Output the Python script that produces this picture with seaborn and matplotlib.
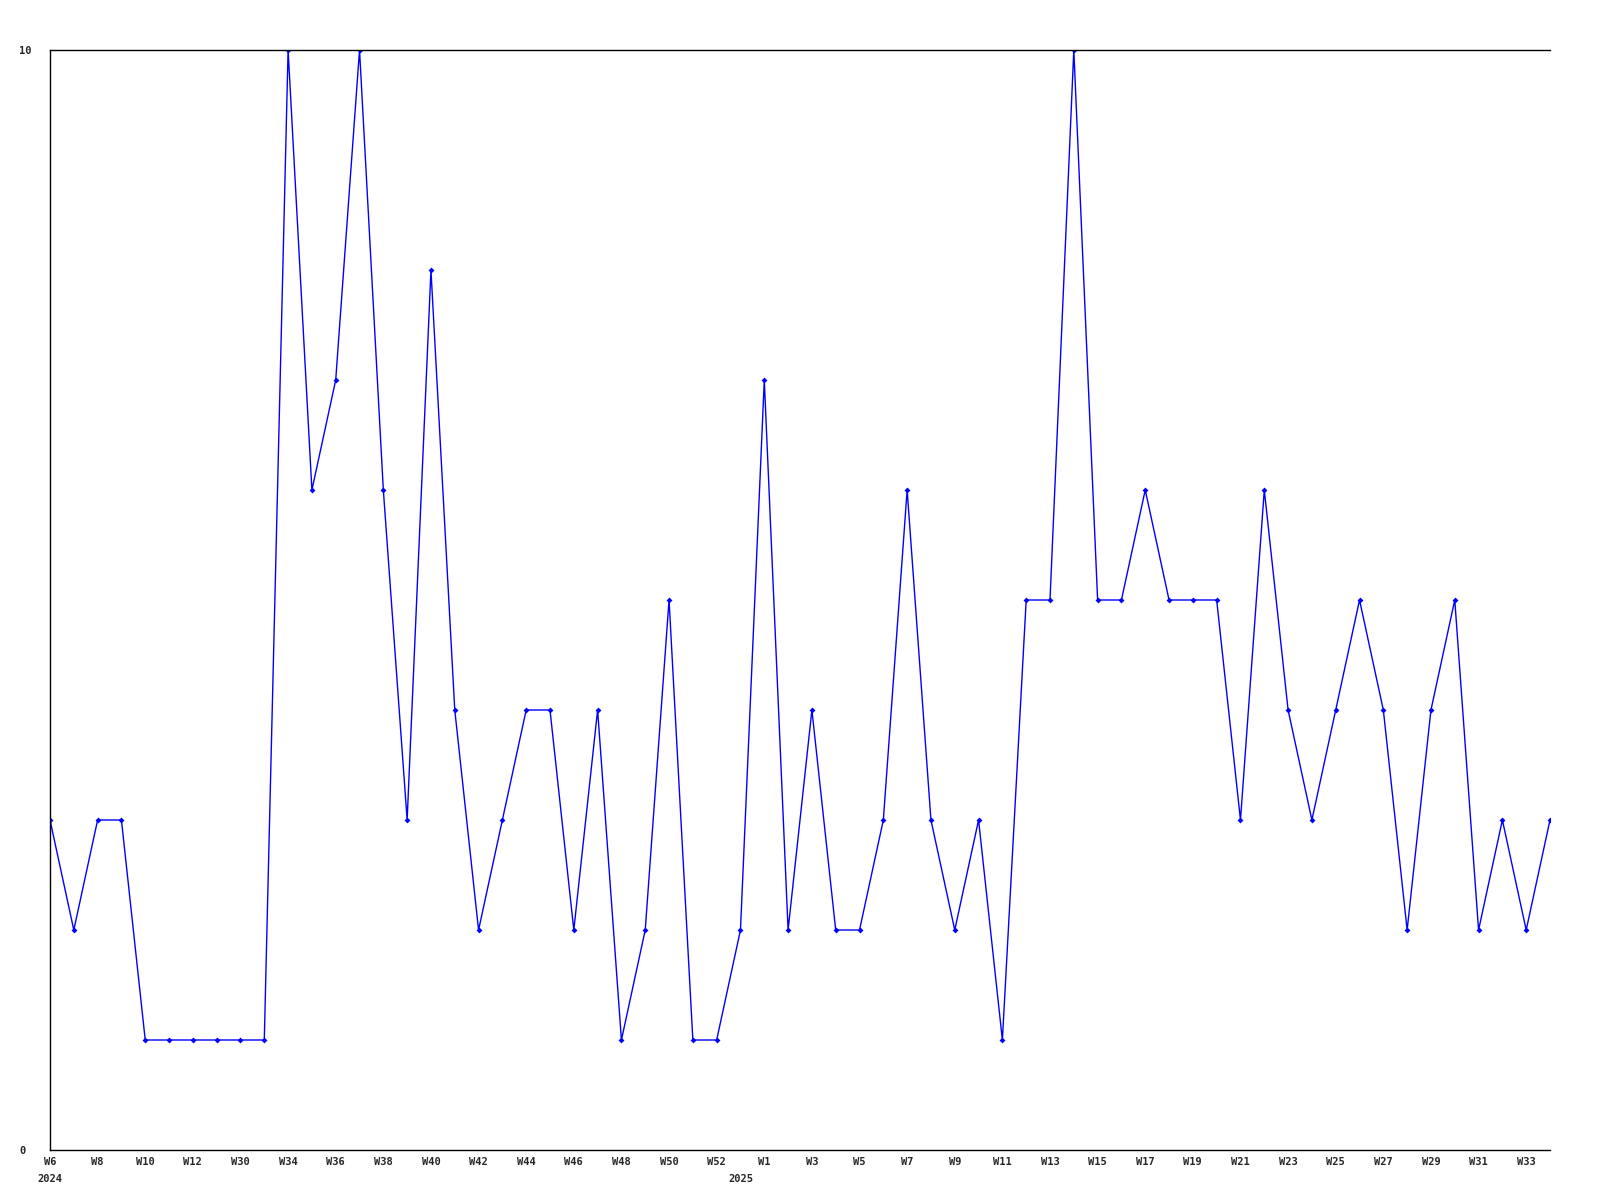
import pandas as pd
import matplotlib
matplotlib.use("Agg")
import matplotlib.pyplot as plt
import seaborn as sns

# weekly values (gaps in weeks are in the source data)
weeks = ["W6", "W7", "W8", "W9", "W10", "W11", "W12", "W13", "W30", "W33",
         "W34", "W35", "W36", "W37", "W38", "W39", "W40", "W41", "W42", "W43",
         "W44", "W45", "W46", "W47", "W48", "W49", "W50", "W51", "W52", "W0",
         "W1", "W2", "W3", "W4", "W5", "W6", "W7", "W8", "W9", "W10",
         "W11", "W12", "W13", "W14", "W15", "W16", "W17", "W18", "W19", "W20",
         "W21", "W22", "W23", "W24", "W25", "W26", "W27", "W28", "W29", "W30",
         "W31", "W32", "W33", "W34"]
years = [2024] * 29 + [2025] * 35
values = [3, 2, 3, 3, 1, 1, 1, 1, 1, 1,
          10, 6, 7, 10, 6, 3, 8, 4, 2, 3,
          4, 4, 2, 4, 1, 2, 5, 1, 1, 2,
          7, 2, 4, 2, 2, 3, 6, 3, 2, 3,
          1, 5, 5, 10, 5, 5, 6, 5, 5, 5,
          3, 6, 4, 3, 4, 5, 4, 2, 4, 5,
          2, 3, 2, 3]

df = pd.DataFrame({"week": weeks, "year": years, "value": values})
df["pos"] = range(len(df))

sns.set_style("white")
plt.rcParams["font.family"] = ["DejaVu Sans Mono"]

fig = plt.figure(figsize=(16, 12), dpi=100)
ax = fig.add_axes([50 / 1600, 50 / 1200, 1500 / 1600, 1100 / 1200])

sns.lineplot(data=df, x="pos", y="value", ax=ax, color="#0000ff", linewidth=1,
             marker="D", markersize=3, markeredgewidth=0)

ax.set_xlim(0, len(df) - 1)
ax.set_ylim(0, 10)

ticks = df["pos"][::2]
ax.set_xticks(ticks)
ax.set_xticklabels(df["week"][::2], fontsize=7.5, fontweight="bold")
ax.set_yticks([0, 10])
ax.set_yticklabels(["0", "10"], fontsize=7.5, fontweight="bold", ha="left")
ax.tick_params(axis="x", length=0, pad=5)
ax.tick_params(axis="y", length=0, pad=22)

# year label under first week of each year
first = df.drop_duplicates("year")
for _, r in first.iterrows():
    ax.text(r["pos"], -0.022, str(r["year"]), transform=ax.get_xaxis_transform(),
            ha="center", va="top", fontsize=7.5, fontweight="bold")

ax.set_xlabel("")
ax.set_ylabel("")
for s in ["left", "bottom", "top"]:
    ax.spines[s].set_color("black")
    ax.spines[s].set_linewidth(1)
ax.spines["right"].set_visible(False)

fig.savefig("out.png", dpi=100)
